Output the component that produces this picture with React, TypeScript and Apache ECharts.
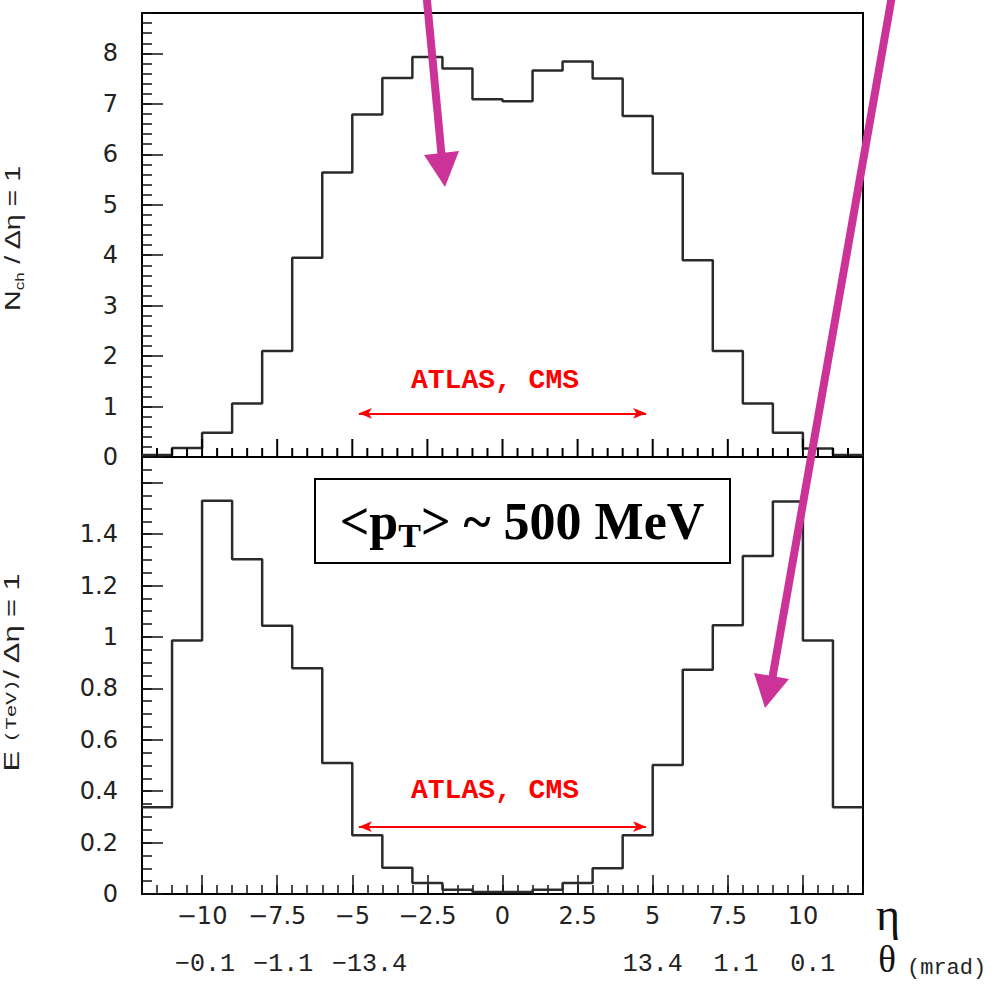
import React, { useEffect, useRef } from 'react';
import * as echarts from 'echarts';

// ---------------- data ----------------
const binLeftEdges = [-12, -11, -10, -9, -8, -7, -6, -5, -4, -3, -2, -1, 0, 1, 2, 3, 4, 5, 6, 7, 8, 9, 10, 11];
const binUpperEdge = 12;
const nchValues = [0.04, 0.18, 0.48, 1.06, 2.1, 3.95, 5.64, 6.79, 7.51, 7.93, 7.7, 7.09, 7.05, 7.66, 7.84, 7.5, 6.76, 5.62, 3.9, 2.1, 1.06, 0.48, 0.17, 0.04];
const energyValues = [0.337, 0.986, 1.53, 1.302, 1.044, 0.878, 0.51, 0.229, 0.102, 0.043, 0.017, 0.008, 0.008, 0.017, 0.043, 0.1, 0.229, 0.502, 0.872, 1.045, 1.315, 1.527, 0.986, 0.337];

const etaTickValues = [-10, -7.5, -5, -2.5, 0, 2.5, 5, 7.5, 10];
const etaMinorStep = 0.5;
const nchTickValues = [0, 1, 2, 3, 4, 5, 6, 7, 8];
const energyTickValues = [0, 0.2, 0.4, 0.6, 0.8, 1, 1.2, 1.4, 1.6];
const energyLabelValues = [0, 0.2, 0.4, 0.6, 0.8, 1, 1.2, 1.4];
const thetaLabels = ['−0.1', '−1.1', '−13.4', '13.4', '1.1', '0.1'];
const thetaLabelEta = [-9.9, -7.3, -4.43, 5.0, 7.77, 10.33];

const detectorLabel = 'ATLAS, CMS';
const detectorRange = [-4.78, 4.78];
const nchArrowLevel = 0.866;
const energyArrowLevel = 0.262;

const toSteps = (vals: number[]) => {
  const pts = binLeftEdges.map((x, i) => [x, vals[i]]);
  pts.push([binUpperEdge, vals[vals.length - 1]]);
  return pts;
};

// layout
const G_LEFT = 142;
const G_WIDTH = 721;
const TOP_Y = 13;
const MID_Y = 457;
const BOT_Y = 894;
const X_MIN = -12;
const X_MAX = 12;

// tick positions along the shared middle edge (pointing up into the upper panel)
const middleTicks: number[][] = [];
for (let v = X_MIN + etaMinorStep; v < X_MAX - 1e-9; v += etaMinorStep) {
  const isMajor = etaTickValues.some((t) => Math.abs(t - v) < 1e-6);
  middleTicks.push([v, isMajor ? 1 : 0]);
}

const MAG = '#CC3399';
const TICK = '#111';

const minus = (v: number) => String(v).replace('-', '−');

export default function App() {
  const ref = useRef<HTMLDivElement>(null);
  useEffect(() => {
    if (!ref.current) return;
    const chart = echarts.init(ref.current, null, { renderer: 'svg' });

    const axisLine = { show: true, onZero: false, lineStyle: { color: '#000', width: 2 } };
    const noLine = { show: false, onZero: false };
    const labelFont = { fontFamily: 'DejaVu Sans', fontSize: 24, color: '#222' };
    const tickStyle = { color: TICK, width: 1.5 };

    const tickGraphic = middleTicks.map(([v, major]) => {
      const px = G_LEFT + ((v - X_MIN) / (X_MAX - X_MIN)) * G_WIDTH;
      const len = major ? 18 : 9;
      return {
        type: 'line', z: 100,
        shape: { x1: px, y1: MID_Y, x2: px, y2: MID_Y - len },
        style: { stroke: '#000', lineWidth: 2 },
      };
    });

    const graphic: any[] = [
      {
        type: 'text', x: 12, y: 238, rotation: Math.PI / 2, scaleX: 1.3,
        style: {
          text: '{a|N}{s|ch}{a| / Δη = 1}',
          align: 'center', verticalAlign: 'middle', textAlign: 'center', textVerticalAlign: 'middle',
          fill: '#222',
          rich: {
            a: { fontFamily: 'Liberation Sans', fontSize: 22, lineHeight: 28, fill: '#222' },
            s: { fontFamily: 'Liberation Sans', fontSize: 13, lineHeight: 13, verticalAlign: 'bottom', fill: '#222' },
          },
        },
      },
      {
        type: 'text', x: 12, y: 672, rotation: Math.PI / 2, scaleX: 1.4,
        style: {
          text: '{a|E }{m|(TeV)}{a|/ Δη = 1}',
          align: 'center', verticalAlign: 'middle', textAlign: 'center', textVerticalAlign: 'middle',
          fill: '#222',
          rich: {
            a: { fontFamily: 'Liberation Sans', fontSize: 22, lineHeight: 28, fill: '#222' },
            m: { fontFamily: 'Liberation Mono', fontSize: 15, lineHeight: 28, fill: '#222' },
          },
        },
      },
      {
        type: 'text', x: 495, y: 380,
        style: { text: detectorLabel, fill: '#ff0000', fontFamily: 'Liberation Mono', fontWeight: 'bold', fontSize: 28,
          align: 'center', verticalAlign: 'middle', textAlign: 'center', textVerticalAlign: 'middle' },
      },
      {
        type: 'text', x: 495, y: 790,
        style: { text: detectorLabel, fill: '#ff0000', fontFamily: 'Liberation Mono', fontWeight: 'bold', fontSize: 28,
          align: 'center', verticalAlign: 'middle', textAlign: 'center', textVerticalAlign: 'middle' },
      },
      { type: 'rect', shape: { x: 315, y: 479, width: 415, height: 84 }, style: { fill: '#fff', stroke: '#000', lineWidth: 2 }, z: 10 },
      {
        type: 'text', x: 522, y: 521, z: 11,
        style: {
          text: '{a|<p}{s|T}{a|> ~ 500 MeV}',
          align: 'center', verticalAlign: 'middle', textAlign: 'center', textVerticalAlign: 'middle',
          fill: '#000',
          rich: {
            a: { fontFamily: 'Liberation Serif', fontWeight: 'bold', fontSize: 52, lineHeight: 62, fill: '#000' },
            s: { fontFamily: 'Liberation Serif', fontWeight: 'bold', fontSize: 34, lineHeight: 34, verticalAlign: 'bottom', fill: '#000' },
          },
        },
      },
      {
        type: 'text', x: 888, y: 914,
        style: { text: 'η', fill: '#111', fontFamily: 'Liberation Serif', fontSize: 46,
          align: 'center', verticalAlign: 'middle', textAlign: 'center', textVerticalAlign: 'middle' },
      },
      {
        type: 'text', x: 887, y: 959,
        style: { text: 'θ', fill: '#111', fontFamily: 'Liberation Serif', fontSize: 37,
          align: 'center', verticalAlign: 'middle', textAlign: 'center', textVerticalAlign: 'middle' },
      },
      {
        type: 'text', x: 907, y: 968,
        style: { text: '(mrad)', fill: '#222', fontFamily: 'Liberation Mono', fontSize: 22,
          align: 'left', verticalAlign: 'middle', textAlign: 'left', textVerticalAlign: 'middle' },
      },
      { type: 'line', z: 20, shape: { x1: 426, y1: -10, x2: 442, y2: 160 }, style: { stroke: MAG, lineWidth: 8 } },
      { type: 'polygon', z: 20, shape: { points: [[424, 155], [459, 151], [445, 187]] }, style: { fill: MAG } },
      { type: 'line', z: 20, shape: { x1: 893, y1: -10, x2: 772, y2: 680 }, style: { stroke: MAG, lineWidth: 8 } },
      { type: 'polygon', z: 20, shape: { points: [[754, 673], [789, 679], [765, 708]] }, style: { fill: MAG } },
      ...tickGraphic,
    ];

    const option: any = {
      animation: false,
      backgroundColor: '#fff',
      grid: [
        { left: G_LEFT, top: TOP_Y, width: G_WIDTH, height: MID_Y - TOP_Y, show: true, borderColor: '#000', borderWidth: 2, backgroundColor: 'transparent' },
        { left: G_LEFT, top: MID_Y, width: G_WIDTH, height: BOT_Y - MID_Y, show: true, borderColor: '#000', borderWidth: 2, backgroundColor: 'transparent' },
      ],
      xAxis: [
        {
          gridIndex: 0, type: 'value', position: 'bottom', min: X_MIN, max: X_MAX,
          axisLine: noLine, axisTick: { show: false }, axisLabel: { show: false }, splitLine: { show: false },
        },
        {
          gridIndex: 1, type: 'value', position: 'bottom', min: X_MIN, max: X_MAX,
          axisLine,
          axisTick: { show: true, inside: true, length: 19, customValues: etaTickValues, lineStyle: tickStyle },
          axisLabel: { show: true, customValues: etaTickValues, margin: 10, formatter: (v: number) => minus(v), ...labelFont },
          splitLine: { show: false },
        },
        {
          gridIndex: 1, type: 'value', position: 'bottom', min: X_MIN, max: X_MAX, interval: etaMinorStep,
          axisLine: noLine,
          axisTick: { show: true, inside: true, length: 9, lineStyle: tickStyle },
          axisLabel: { show: false }, splitLine: { show: false },
        },
        {
          gridIndex: 1, type: 'value', position: 'bottom', min: X_MIN, max: X_MAX,
          axisLine: noLine,
          axisTick: { show: false },
          axisLabel: {
            show: true,
            customValues: thetaLabelEta,
            margin: 58,
            fontFamily: 'Liberation Mono',
            fontSize: 25,
            color: '#222',
            formatter: (v: number) => {
              const i = thetaLabelEta.findIndex((e) => Math.abs(e - v) < 1e-6);
              return i >= 0 ? thetaLabels[i] : '';
            },
          },
          splitLine: { show: false },
        },
      ],
      yAxis: [
        {
          gridIndex: 0, type: 'value', position: 'left', min: 0, max: 8.8,
          axisLine,
          axisTick: { show: true, inside: true, length: 21, customValues: nchTickValues, lineStyle: tickStyle },
          axisLabel: { show: true, customValues: nchTickValues, margin: 24, ...labelFont },
          splitLine: { show: false },
        },
        {
          gridIndex: 0, type: 'value', position: 'left', min: 0, max: 8.8, interval: 0.2,
          axisLine: noLine,
          axisTick: { show: true, inside: true, length: 10, lineStyle: tickStyle },
          axisLabel: { show: false },
          splitLine: { show: false },
        },
        {
          gridIndex: 1, type: 'value', position: 'left', min: 0, max: 1.7,
          axisLine,
          axisTick: { show: true, inside: true, length: 21, customValues: energyTickValues, lineStyle: tickStyle },
          axisLabel: { show: true, customValues: energyLabelValues, margin: 24, ...labelFont },
          splitLine: { show: false },
        },
        {
          gridIndex: 1, type: 'value', position: 'left', min: 0, max: 1.7, interval: 0.05,
          axisLine: noLine,
          axisTick: { show: true, inside: true, length: 10, lineStyle: tickStyle },
          axisLabel: { show: false },
          splitLine: { show: false },
        },
      ],
      series: [
        {
          type: 'line', xAxisIndex: 0, yAxisIndex: 0, step: 'end', showSymbol: false, silent: true,
          data: toSteps(nchValues),
          lineStyle: { color: '#2b2b2b', width: 2.5 },
          markLine: {
            silent: true, symbol: ['arrow', 'arrow'], symbolSize: [8, 13],
            lineStyle: { color: '#ff0000', width: 2, type: 'solid' },
            label: { show: false },
            data: [[{ coord: [detectorRange[0], nchArrowLevel] }, { coord: [detectorRange[1], nchArrowLevel] }]],
          },
        },
        {
          type: 'line', xAxisIndex: 1, yAxisIndex: 2, step: 'end', showSymbol: false, silent: true,
          data: toSteps(energyValues),
          lineStyle: { color: '#2b2b2b', width: 2.5 },
          markLine: {
            silent: true, symbol: ['arrow', 'arrow'], symbolSize: [8, 13],
            lineStyle: { color: '#ff0000', width: 2, type: 'solid' },
            label: { show: false },
            data: [[{ coord: [detectorRange[0], energyArrowLevel] }, { coord: [detectorRange[1], energyArrowLevel] }]],
          },
        },
      ],
      graphic,
    };

    chart.setOption(option);
    return () => chart.dispose();
  }, []);

  return <div ref={ref} style={{ position: 'absolute', left: 0, top: 0, width: 994, height: 986 }} />;
}
